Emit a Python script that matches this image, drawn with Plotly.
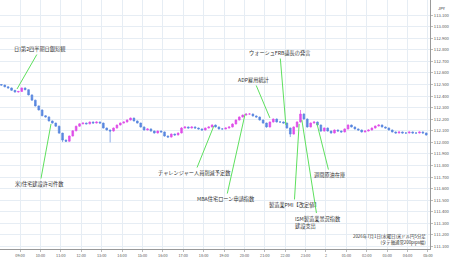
import plotly.graph_objects as go
import pandas as pd

# ---- data (USD/JPY, 10-minute candles) ----
closes = [112.495,112.48,112.47,112.45,112.435,112.44,112.47,112.455,112.41,112.365,
112.315,112.28,112.23,112.22,112.185,112.167,112.14,112.08,112.02,112.01,
112.055,112.1,112.14,112.16,112.167,112.16,112.176,112.167,112.176,112.167,
112.124,112.107,112.098,112.124,112.15,112.167,112.176,112.193,112.21,112.185,
112.167,112.133,112.107,112.116,112.098,112.081,112.098,112.09,112.055,112.046,
112.072,112.064,112.081,112.124,112.133,112.124,112.133,112.124,112.116,112.107,
112.124,112.133,112.15,112.133,112.116,112.116,112.124,112.133,112.159,112.193,
112.219,112.236,112.245,112.245,112.228,112.219,112.193,112.167,112.133,112.176,
112.202,112.176,112.176,112.167,112.124,112.072,112.133,112.176,112.245,112.202,
112.133,112.167,112.176,112.15,112.098,112.124,112.098,112.081,112.107,112.098,
112.09,112.116,112.15,112.133,112.116,112.107,112.09,112.098,112.107,112.124,
112.141,112.15,112.133,112.124,112.107,112.09,112.081,112.09,112.081,112.081,
112.09,112.081,112.081,112.09,112.081,112.064]
first_open = 112.50
# wick extensions beyond the body, in 0.001 yen
up_wick = [3,3,2,3,2,4,3,3,2,3, 3,2,3,4,3,3,2,3,3,4, 3,4,3,4,3,3,4,3,4,3,
           3,3,2,4,3,4,3,5,4,3, 3,3,3,4,3,3,4,3,3,3, 4,3,3,8,4,3,4,4,3,3,
           3,4,6,3,3,3,3,4,5,4, 5,4,4,5,3,4,3,3,3,4, 4,3,3,4,3,3,5,6,35,5,
           3,4,4,3,3,4,3,3,4,3, 3,4,5,3,3,3,3,3,4,4, 4,5,3,3,3,3,3,3,3,3,
           3,3,3,3,3,3]
dn_wick = [3,3,3,3,3,4,3,4,3,3, 4,3,3,4,3,3,4,5,17,6, 4,3,3,3,3,3,3,3,3,3,
           3,3,98,4,3,3,3,3,3,3, 3,4,3,3,4,4,3,3,5,4, 3,4,3,3,3,3,3,3,3,3,
           3,3,3,3,4,3,3,3,3,3, 3,3,3,3,3,3,3,4,6,3, 3,3,3,3,4,26,4,3,3,3,
           5,3,3,3,6,4,4,5,3,3, 4,3,3,3,3,3,4,3,3,3, 3,3,3,3,3,3,3,3,3,3,
           3,3,3,3,3,5]
start_time = "2026-07-01 08:05"

ev_labels = ["日)第2四半期日銀短観", "米)住宅建設許可件数", "チャレンジャー人員削減予定数",
             "MBA住宅ローン申請指数", "ADP雇用統計", "ウォーシュFRB議長の発言",
             "製造業PMI【改定値】", "ISM製造業景況指数<br>建設支出", "週間原油在庫"]
ev_times = ["2026-07-01 08:51", "2026-07-01 10:31", "2026-07-01 18:30", "2026-07-01 20:02",
            "2026-07-01 21:15", "2026-07-01 22:02", "2026-07-01 22:41", "2026-07-01 22:49",
            "2026-07-01 23:33"]
ev_prices = [112.461, 112.159, 112.141, 112.245, 112.211, 112.15, 112.159, 112.193, 112.167]

y_ticks = [round(111.1 + 0.1 * i, 1) for i in range(21)]
x_tick_times = pd.date_range("2026-07-01 09:00", "2026-07-02 05:00", freq="1h")
x_tick_text = ["2" if t.hour == 0 else t.strftime("%H:%M") for t in x_tick_times]

note_lines = ["2026年7月1日(水曜日)米ドル円5分足", "(タテ軸通常200pips幅)"]

# ---- layout / style (not data) ----
ev_ax = [23, -11, -19, -19, -16, -6, -5, 16, 13]
ev_ay = [-40, 60, 47, 85, -38, -72, 81, 102, 52]
FONT = "Noto Sans CJK JP"
GREEN = "#5ee05e"
GRID = "#e6edf4"

times = pd.date_range(start_time, periods=len(closes), freq="10min")
opens = [first_open] + closes[:-1]
highs = [max(o, c) + u / 1000 for o, c, u in zip(opens, closes, up_wick)]
lows = [min(o, c) - d / 1000 for o, c, d in zip(opens, closes, dn_wick)]

fig = go.Figure(go.Candlestick(
    x=times, open=opens, high=highs, low=lows, close=closes,
    increasing=dict(line=dict(color="#e04fe8", width=0.7), fillcolor="#e04fe8"),
    decreasing=dict(line=dict(color="#5a88e0", width=0.7), fillcolor="#5a88e0"),
    whiskerwidth=0, showlegend=False, hoverinfo="skip"))

annotations = []
for lab, t, p, ax, ay in zip(ev_labels, ev_times, ev_prices, ev_ax, ev_ay):
    annotations.append(dict(
        x=t, y=p, xref="x", yref="y", text=lab, showarrow=True, arrowhead=0,
        arrowwidth=1, arrowcolor=GREEN, ax=ax, ay=ay, standoff=0,
        align="left", font=dict(family=FONT, size=5.2, color="#333333")))

annotations.append(dict(
    x=1, y=0, xref="paper", yref="paper", xanchor="right", yanchor="bottom",
    xshift=-2, yshift=1, showarrow=False, align="right",
    text="<br>".join(note_lines), font=dict(family=FONT, size=4.4, color="#333333")))
annotations.append(dict(
    x=1, y=1, xref="paper", yref="paper", xanchor="left", yanchor="top",
    xshift=6, yshift=-3, showarrow=False, text="JPY",
    font=dict(family=FONT, size=4, color="#333333")))

fig.update_layout(
    width=450, height=258, margin=dict(l=0, r=20, t=0, b=9),
    paper_bgcolor="white", plot_bgcolor="white",
    annotations=annotations,
    xaxis=dict(range=["2026-07-01 08:01", "2026-07-02 05:06"], rangeslider=dict(visible=False),
               tickvals=list(x_tick_times), ticktext=x_tick_text,
               showgrid=True, gridcolor=GRID, gridwidth=1,
               showline=True, linecolor="#999999", linewidth=1,
               ticks="outside", ticklen=2, tickcolor="#bbbbbb",
               tickfont=dict(family=FONT, size=3.8, color="#555555")),
    yaxis=dict(range=[111.079, 113.23], side="right", tickvals=y_ticks,
               ticktext=[f"{v:.3f}" for v in y_ticks],
               showgrid=True, gridcolor=GRID, gridwidth=1,
               showline=True, linecolor="#999999", linewidth=1,
               ticks="outside", ticklen=2, tickcolor="#bbbbbb",
               tickfont=dict(family=FONT, size=4.2, color="#555555"), zeroline=False),
)

fig.write_html("out.html")
